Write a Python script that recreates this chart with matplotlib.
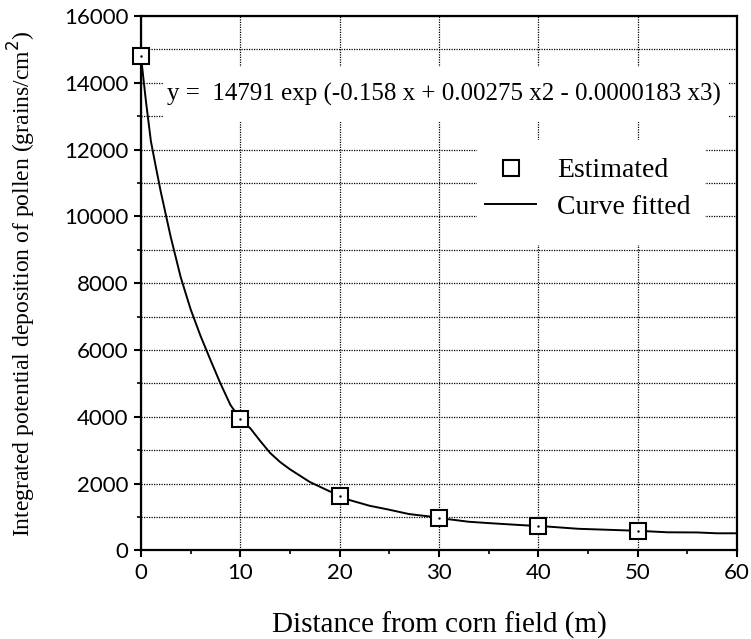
import numpy as np
import matplotlib
matplotlib.use('Agg')
import matplotlib.pyplot as plt
from matplotlib.ticker import MultipleLocator
from matplotlib.patches import Rectangle

# estimated pollen deposition at each distance
est_x = [0, 10, 20, 30, 40, 50]
est_y = [14791, 3940, 1620, 975, 735, 590]

# fitted curve
fit_x = [0, 0.5, 1, 1.5, 2, 3, 4, 5, 6, 7, 8, 9, 10, 11, 12, 13, 14, 15, 17, 19,
         21, 23, 25, 27, 29, 31, 33, 35, 38, 41, 44, 47, 50, 53, 56, 58, 60]
fit_y = [14791, 13450, 12250, 11480, 10730, 9380, 8180, 7220, 6420, 5700, 5000, 4360,
         3930, 3660, 3280, 2920, 2650, 2430, 2050, 1770, 1510, 1340, 1220, 1090, 1020,
         935, 860, 820, 765, 715, 650, 620, 590, 545, 540, 515, 515]

equation = 'y =  14791 exp (-0.158 x + 0.00275 x2 - 0.0000183 x3)'
xlab = 'Distance from corn field (m)'
ylab = 'Integrated potential deposition of pollen (grains/cm$^{2}$)'

serif = 'Liberation Serif'

fig = plt.figure(figsize=(7.51, 6.39), dpi=100)
ax = fig.add_axes([0.1877, 0.1385, 0.7937, 0.8365])

ax.plot(fit_x, fit_y, color='black', lw=1.4, label='Curve fitted', zorder=3)
ax.plot(est_x, est_y, ls='none', marker='s', ms=11.5, mfc='white', mec='black',
        mew=1.5, label='Estimated', zorder=4, clip_on=False)
ax.plot(est_x, est_y, ls='none', marker='.', ms=1.5, color='black', zorder=5,
        clip_on=False)

ax.set_xlim(0, 60)
ax.set_ylim(0, 16000)
ax.xaxis.set_major_locator(MultipleLocator(10))
ax.xaxis.set_minor_locator(MultipleLocator(5))
ax.yaxis.set_major_locator(MultipleLocator(2000))
ax.yaxis.set_minor_locator(MultipleLocator(1000))

ax.grid(True, which='major', axis='x', color='black', lw=0.9, ls=(0, (1, 1)))
ax.grid(True, which='both', axis='y', color='black', lw=0.9, ls=(0, (1, 1)))
ax.set_axisbelow(True)

for s in ax.spines.values():
    s.set_linewidth(1.6)

ax.tick_params(which='major', direction='out', length=5, width=1.5, labelsize=16, pad=4)
ax.tick_params(which='minor', direction='out', length=3, width=1.2)
for lab in ax.get_xticklabels() + ax.get_yticklabels():
    lab.set_fontfamily('Lato')

ax.set_xlabel(xlab, fontsize=21, family=serif, va='center')
ax.xaxis.set_label_coords(0.5, -0.140)
ax.set_ylabel(ylab, fontsize=17, family=serif)
ax.yaxis.set_label_coords(-0.172, 0.4995)

# white boxes behind the equation and the legend
ax.add_patch(Rectangle((0.0377, 0.8017), 0.947, 0.103, transform=ax.transAxes,
                       facecolor='white', edgecolor='none', zorder=1))
ax.add_patch(Rectangle((0.564, 0.5716), 0.382, 0.1964, transform=ax.transAxes,
                       facecolor='white', edgecolor='none', zorder=1))

ax.text(0.0445, 0.853, equation, fontsize=18, family=serif, va='center', ha='left',
        transform=ax.transAxes, zorder=6)

handles, labels = ax.get_legend_handles_labels()
leg = ax.legend(handles[::-1], labels[::-1], loc='upper left',
                bbox_to_anchor=(0.5775, 0.7343), frameon=False, borderpad=0,
                borderaxespad=0, prop={'family': serif, 'size': 20},
                handlelength=1.83, handletextpad=0.75, labelspacing=0.40)
leg.set_zorder(6)

plt.savefig('out.png', dpi=100)
